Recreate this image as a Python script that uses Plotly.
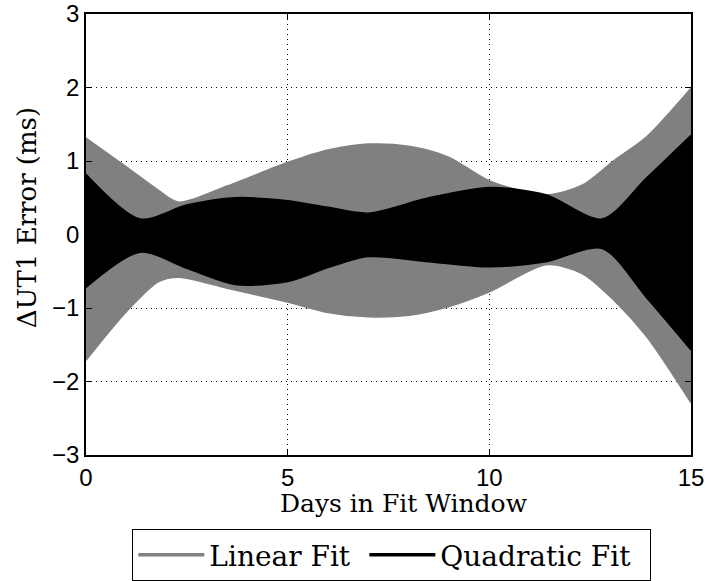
import plotly.graph_objects as go

# residual spread of the UT1 fits (ms)
gray_days = [0, 1, 1.8, 2.3, 3.5, 5, 6, 7, 8, 9, 10, 11.4, 12.3, 13.1, 13.9, 15]
gray_upper = [1.31, 0.92, 0.6, 0.44, 0.66, 0.98, 1.15, 1.23, 1.2, 1.05, 0.73, 0.54, 0.67, 1.01, 1.33, 1.99]
gray_lower = [-1.71, -1.05, -0.64, -0.58, -0.73, -0.92, -1.06, -1.12, -1.1, -0.98, -0.78, -0.41, -0.53, -0.9, -1.39, -2.29]

black_days = [0, 1.34, 2.5, 3.7, 5, 6, 7, 8.5, 10, 11.4, 12.8, 13.9, 15]
black_upper = [0.82, 0.21, 0.4, 0.5, 0.46, 0.37, 0.29, 0.5, 0.64, 0.54, 0.21, 0.77, 1.35]
black_lower = [-0.72, -0.24, -0.46, -0.68, -0.64, -0.45, -0.3, -0.37, -0.44, -0.37, -0.19, -0.86, -1.57]

x_ticks = [0, 5, 10, 15]
y_ticks = [-3, -2, -1, 0, 1, 2, 3]

GRAY = "rgb(128,128,128)"
SERIF = "DejaVu Serif"
SANS = "Liberation Sans"

fig = go.Figure()

# linear fit band
fig.add_trace(go.Scatter(x=gray_days, y=gray_upper, mode="lines", showlegend=False,
                         line=dict(color=GRAY, width=1.5, shape="spline", smoothing=0.8)))
fig.add_trace(go.Scatter(x=gray_days, y=gray_lower, mode="lines", showlegend=False,
                         fill="tonexty", fillcolor=GRAY,
                         line=dict(color=GRAY, width=1.5, shape="spline", smoothing=0.8)))

# quadratic fit band
fig.add_trace(go.Scatter(x=black_days, y=black_upper, mode="lines", showlegend=False,
                         line=dict(color="black", width=1.5, shape="spline", smoothing=0.8)))
fig.add_trace(go.Scatter(x=black_days, y=black_lower, mode="lines", showlegend=False,
                         fill="tonexty", fillcolor="black",
                         line=dict(color="black", width=1.5, shape="spline", smoothing=0.8)))

# legend entries
fig.add_trace(go.Scatter(x=[None], y=[None], mode="lines", name="Linear Fit",
                         legendwidth=150, line=dict(color=GRAY, width=3.5)))
fig.add_trace(go.Scatter(x=[None], y=[None], mode="lines", name="Quadratic Fit",
                         legendwidth=205, line=dict(color="black", width=3.5)))

axis_style = dict(
    showline=True, linecolor="black", linewidth=1.5, mirror="ticks",
    ticks="inside", ticklen=6, tickcolor="black", tickwidth=1,
    showgrid=True, gridcolor="black", gridwidth=1, griddash="1px,4px",
    zeroline=False, automargin=False,
    tickfont=dict(family=SANS, size=24, color="black"),
)

fig.update_xaxes(range=[0, 15], tickvals=x_ticks, **axis_style)
fig.update_yaxes(range=[-3, 3], tickvals=y_ticks, **axis_style)

fig.update_layout(
    width=706, height=581,
    margin=dict(l=86, r=15, t=14, b=126),
    plot_bgcolor="white", paper_bgcolor="white",
    # container coordinates so the legend does not push the margins
    legend=dict(orientation="h", traceorder="normal", itemwidth=66,
                xref="container", yref="container",
                x=0.555, xanchor="center", y=0.0895, yanchor="top",
                bordercolor="black", borderwidth=1, bgcolor="white",
                font=dict(family=SERIF, size=28, color="black")),
    annotations=[
        dict(text="Days in Fit Window", xref="paper", yref="paper", x=0.526, y=-0.11,
             xanchor="center", yanchor="middle", showarrow=False,
             font=dict(family=SERIF, size=25, color="black")),
        dict(text="ΔUT1 Error (ms)", xref="paper", yref="paper", x=-0.0975, y=0.537,
             xanchor="center", yanchor="middle", textangle=-90, showarrow=False,
             font=dict(family=SERIF, size=26, color="black")),
    ],
)

# drop the default page margin so the figure sits at the window corner
fig.write_html("out.html", config={"displayModeBar": False, "responsive": False},
               post_script="document.body.style.margin = '0';")
